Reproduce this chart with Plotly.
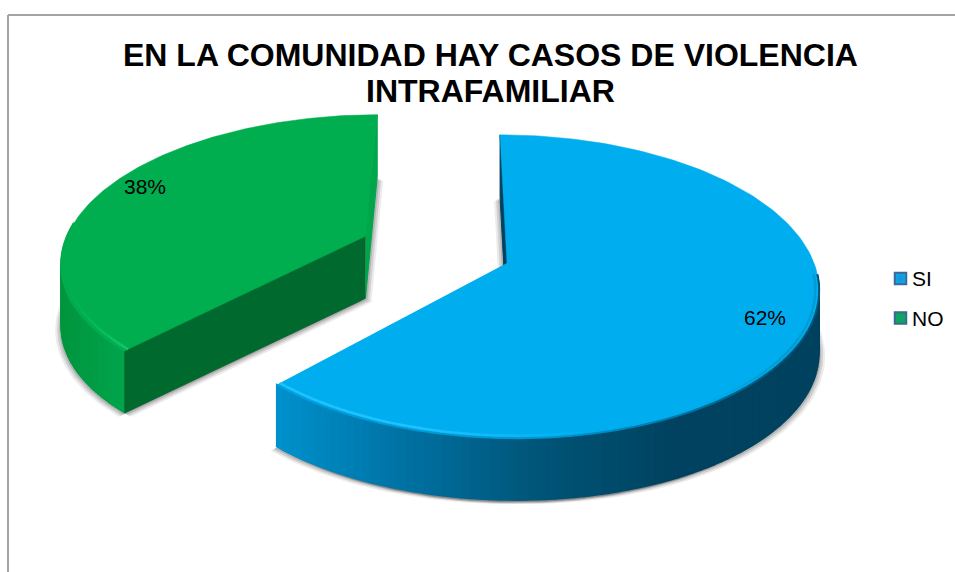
import numpy as np
import plotly.graph_objects as go

categories = ["SI", "NO"]
values = [62, 38]
title_lines = ["EN LA COMUNIDAD HAY CASOS DE VIOLENCIA", "INTRAFAMILIAR"]
top_colors = ["#00AEEF", "#00AD4F"]
legend_edge = ["#1F8FD0", "#1F9A78"]
pulls = [0.0, 0.505]
label_r = [0.86, 0.88]
label_turn = [0.04, 0.06]

W, H = 955, 572
CX, CY, A, B, K, SKEW, THICK = 507, 263, 307, 148, 0.155, 8, 62
STEPS = 150


def proj(u, v, dz=0.0):
    d = 1 - K * v
    vv = v / d
    return CX + A * u / d + SKEW * vv, CY + B * vv + dz


def mix(x, xs, cols):
    return "rgb(%d,%d,%d)" % tuple(np.interp(x, xs, [c[i] for c in cols]) for i in range(3))


fig = go.Figure()


def poly(xs, ys, color, lw=1.0):
    fig.add_trace(go.Scatter(x=list(xs), y=list(ys), mode="lines", fill="toself", fillcolor=color,
                             line=dict(color=color, width=lw), hoverinfo="skip", showlegend=False))


def stroke(xs, ys, color, lw):
    fig.add_trace(go.Scatter(x=list(xs), y=list(ys), mode="lines", line=dict(color=color, width=lw),
                             hoverinfo="skip", showlegend=False))


total = sum(values)
ends = np.cumsum(values) / total * 2 * np.pi
starts = np.r_[0, ends[:-1]]

wall_style = [
    dict(xs=[275, 400, 540, 680], cols=[(0, 146, 205), (0, 115, 165), (0, 85, 120), (0, 66, 95)]),
    dict(xs=[60, 130], cols=[(0, 150, 62), (0, 166, 78)]),
]
outer_style = [
    dict(xs=[275, 560, 680, 780], cols=[(0, 160, 222), (0, 150, 210), (0, 120, 170), (0, 85, 120)]),
    dict(xs=[60, 100, 130], cols=[(0, 173, 79), (0, 173, 79), (0, 180, 88)]),
]
inner_style = [
    dict(xs=[275, 420, 600, 700, 790], cols=[(30, 195, 255), (30, 195, 255), (0, 174, 239), (0, 174, 239), (0, 155, 212)]),
    dict(xs=[60, 85, 130], cols=[(0, 173, 79), (5, 183, 88), (25, 203, 108)]),
]
start_face = ["#00425F", "#00692E"]  # face along the slice's first edge
end_face = [None, "#00A64A"]         # face along the slice's last edge

slices = []
for i in range(len(values)):
    a0, a1 = starts[i], ends[i]
    mid = (a0 + a1) / 2
    ox, oy = pulls[i] * np.sin(mid), -pulls[i] * np.cos(mid)
    th = np.linspace(a0, a1, STEPS)
    us, vs = ox + np.sin(th), oy - np.cos(th)
    slices.append((a0, a1, ox, oy, th, us, vs))

# soft shadows of the bottom outlines
for s in slices[::-1]:
    a0, a1, ox, oy, th, us, vs = s
    bx, by = proj(np.r_[ox, us], np.r_[oy, vs], THICK)
    for dx, dy, al in [(-6, 4, .10), (6, 4, .10), (-4, 3, .16), (4, 3, .16), (-2, 2, .2), (2, 2, .2)]:
        poly(bx + dx, by + dy, "rgba(70,70,70,%.2f)" % al, 0)

for i in [1, 0]:
    a0, a1, ox, oy, th, us, vs = slices[i]
    ax, ay = proj(ox, oy)
    # far cut faces
    for (f, idx) in ((end_face[i], -1), (start_face[i], 0) if i == 0 else (None, 0)):
        if f:
            rx, ry = proj(us[idx], vs[idx])
            poly([ax, rx, rx, ax], [ay, ry, ry + THICK, ay + THICK], f)
    # outer wall (only the part that faces the viewer)
    for j in range(len(th) - 1):
        deg = np.degrees(th[j])
        if deg < 94 or deg > 275:
            continue
        x0, y0 = proj(us[j], vs[j])
        x1, y1 = proj(us[j + 1], vs[j + 1])
        c = mix((x0 + x1) / 2, wall_style[i]["xs"], wall_style[i]["cols"])
        poly([x0, x1, x1, x0], [y0, y1, y1 + THICK, y0 + THICK], c, 1.5)
    # near cut face
    if i == 1:
        rx, ry = proj(us[0], vs[0])
        poly([ax, rx, rx, ax], [ay, ry, ry + THICK, ay + THICK], start_face[i])
    # top surface
    tx, ty = proj(us, vs)
    poly(np.r_[ax, tx], np.r_[ay, ty], top_colors[i], 0.5)
    # rim bevel on the front part
    for j in range(0, len(th) - 1):
        deg = np.degrees(th[j])
        if deg < 94 or deg > 275:
            continue
        x0, y0 = proj(us[j], vs[j])
        x1, y1 = proj(us[j + 1], vs[j + 1])
        xm = (x0 + x1) / 2
        stroke([x0, x1], [y0, y1], mix(xm, outer_style[i]["xs"], outer_style[i]["cols"]), 2)
        u0, v0 = ox + .988 * np.sin(th[j]), oy - .988 * np.cos(th[j])
        u1, v1 = ox + .988 * np.sin(th[j + 1]), oy - .988 * np.cos(th[j + 1])
        p0, p1 = proj(u0, v0), proj(u1, v1)
        stroke([p0[0], p1[0]], [p0[1], p1[1]], mix(xm, inner_style[i]["xs"], inner_style[i]["cols"]), 2.5)

# percentage labels, placed on each slice's mid direction
for i in range(len(values)):
    a0, a1, ox, oy, th, us, vs = slices[i]
    mid = (a0 + a1) / 2 + label_turn[i]
    lx, ly = proj(ox + label_r[i] * np.sin(mid), oy - label_r[i] * np.cos(mid))
    fig.add_annotation(x=lx, y=ly, text="%d%%" % values[i], showarrow=False,
                       font=dict(family="Liberation Sans", size=21, color="#000000"))

# legend
for i, name in enumerate(categories):
    y = 278.5 + 39.5 * i
    fig.add_trace(go.Scatter(x=[900.5], y=[y], mode="markers", name=name,
                             marker=dict(symbol="square", size=11.5, color=top_colors[i],
                                         gradient=dict(type="radial", color=legend_edge[i]),
                                         line=dict(color="#3F6797", width=2)),
                             cliponaxis=False, showlegend=False))
    fig.add_annotation(x=911, y=y, text=name, xanchor="left", showarrow=False, xshift=-1,
                       font=dict(family="Liberation Sans", size=21, color="#000000"))

for k, line in enumerate(title_lines):
    fig.add_annotation(x=490, y=54.5 + 36 * k, text="<b>%s</b>" % line, showarrow=False,
                       font=dict(family="Liberation Sans", size=32, color="#000000"))

frame = dict(type="line", line=dict(color="#A3A3A3", width=2), xref="x", yref="y")
fig.add_shape(x0=8, x1=W, y0=15, y1=15, **frame)
fig.add_shape(x0=8, x1=8, y0=15, y1=H, **frame)

fig.update_layout(
    width=W, height=H, margin=dict(l=0, r=0, t=0, b=0),
    paper_bgcolor="white", plot_bgcolor="white", showlegend=False,
    xaxis=dict(range=[0, W], visible=False, fixedrange=True),
    yaxis=dict(range=[H, 0], visible=False, fixedrange=True),
)
fig.write_html("out.html", config={"displayModeBar": False},
               post_script="document.body.style.margin='0';")
